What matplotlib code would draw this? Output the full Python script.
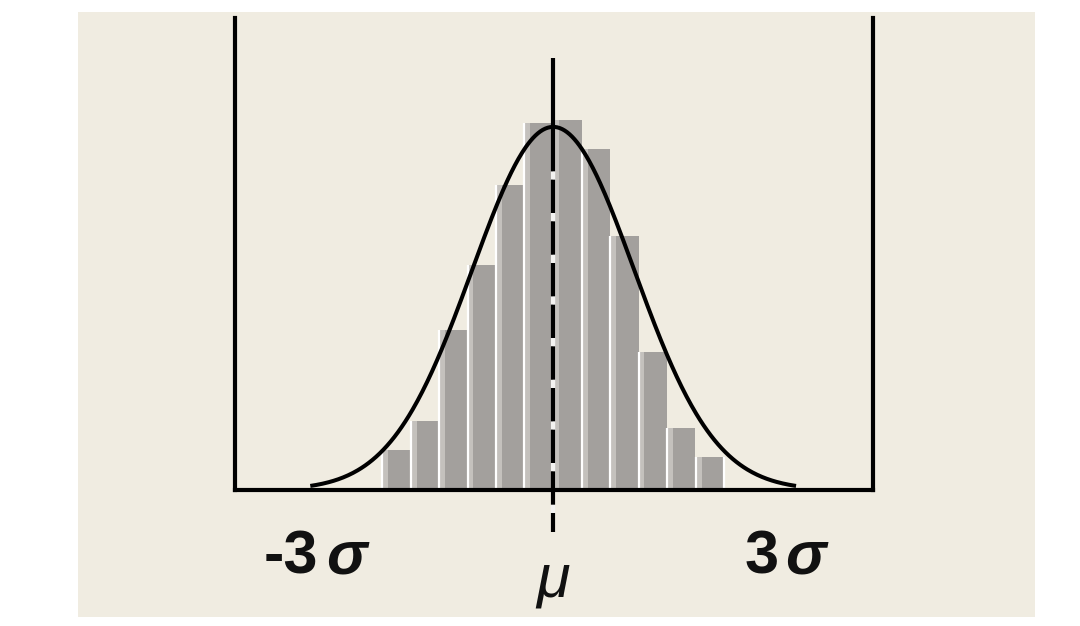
import matplotlib.pyplot as plt
import matplotlib.transforms as mtransforms
import numpy as np

# histogram bins (in units of sigma) and heights (relative to curve peak)
bin_centers = [-1.94, -1.58, -1.23, -0.88, -0.53, -0.18, 0.18, 0.53, 0.88, 1.23, 1.58, 1.94]
bin_heights = [0.11, 0.19, 0.44, 0.62, 0.84, 1.01, 1.02, 0.94, 0.70, 0.38, 0.17, 0.09]
bin_width = 0.352

tick_labels = ["-3", "3"]

plt.rcParams['lines.scale_dashes'] = False
plt.rcParams['font.family'] = ['Liberation Sans', 'DejaVu Sans']

fig = plt.figure(figsize=(10.8, 6.26), dpi=100)
fig.patch.set_facecolor('white')

# beige panel behind the chart
panel = plt.Rectangle((0.0722, 0.0144), 0.886, 0.966, transform=fig.transFigure,
                      facecolor='#f0ece1', edgecolor='none', zorder=-1)
fig.patches.append(panel)

ax = fig.add_axes([0.2176, 0.2173, 0.5907, 0.754])
ax.set_facecolor('none')

# bars: medium grey body, light strip and white separator on the left
lefts = [c - bin_width / 2 for c in bin_centers]
ax.bar(bin_centers, bin_heights, width=bin_width, color='#a3a09d', edgecolor='none', zorder=1)
ax.bar(lefts, bin_heights, width=bin_width * 0.2, align='edge', color='#c4c1bd',
       edgecolor='none', zorder=1)
ax.vlines(lefts + [bin_centers[-1] + bin_width / 2], 0, bin_heights + [bin_heights[-1]],
          color='white', linewidth=1.6, zorder=2)

# normal curve
x = np.linspace(-3, 3, 400)
ax.plot(x, np.exp(-x ** 2 / 2), color='black', linewidth=2.9, zorder=4,
        solid_capstyle='butt')

# mean line: solid on top, dashed through the bars
ax.plot([0, 0], [1.19, 0.97], color='black', linewidth=3, zorder=3,
        solid_capstyle='butt', clip_on=False)
ax.plot([0, 0], [0.97, -0.115], color='black', linewidth=3, zorder=3,
        dashes=(24, 6), gapcolor='#f4f3f1', clip_on=False)

ax.set_xlim(-3.93, 3.95)
ax.set_ylim(0, 1.30)
ax.set_xticks([])
ax.set_yticks([])
ax.spines['top'].set_visible(False)
for s in ['left', 'right', 'bottom']:
    ax.spines[s].set_linewidth(3)
    ax.spines[s].set_color('black')

trans = mtransforms.blended_transform_factory(ax.transData, fig.transFigure)
base_y = (626 - 573) / 626
num_kw = dict(transform=trans, ha='right', va='baseline', fontsize=44,
              fontweight='bold', color='#111111')
sig_kw = dict(transform=trans, ha='left', va='baseline', fontsize=44,
              fontweight='bold', fontstyle='italic', color='#111111')
ax.text(-2.90, base_y, tick_labels[0], **num_kw)
ax.text(-2.80, base_y, "σ", **sig_kw)
ax.text(2.78, base_y, tick_labels[1], **num_kw)
ax.text(2.87, base_y, "σ", **sig_kw)
ax.text(0, (626 - 596) / 626, "μ", transform=trans, ha='center', va='baseline',
        fontsize=44, fontstyle='italic', color='#111111')

fig.savefig("out.png", dpi=100, facecolor='white')
